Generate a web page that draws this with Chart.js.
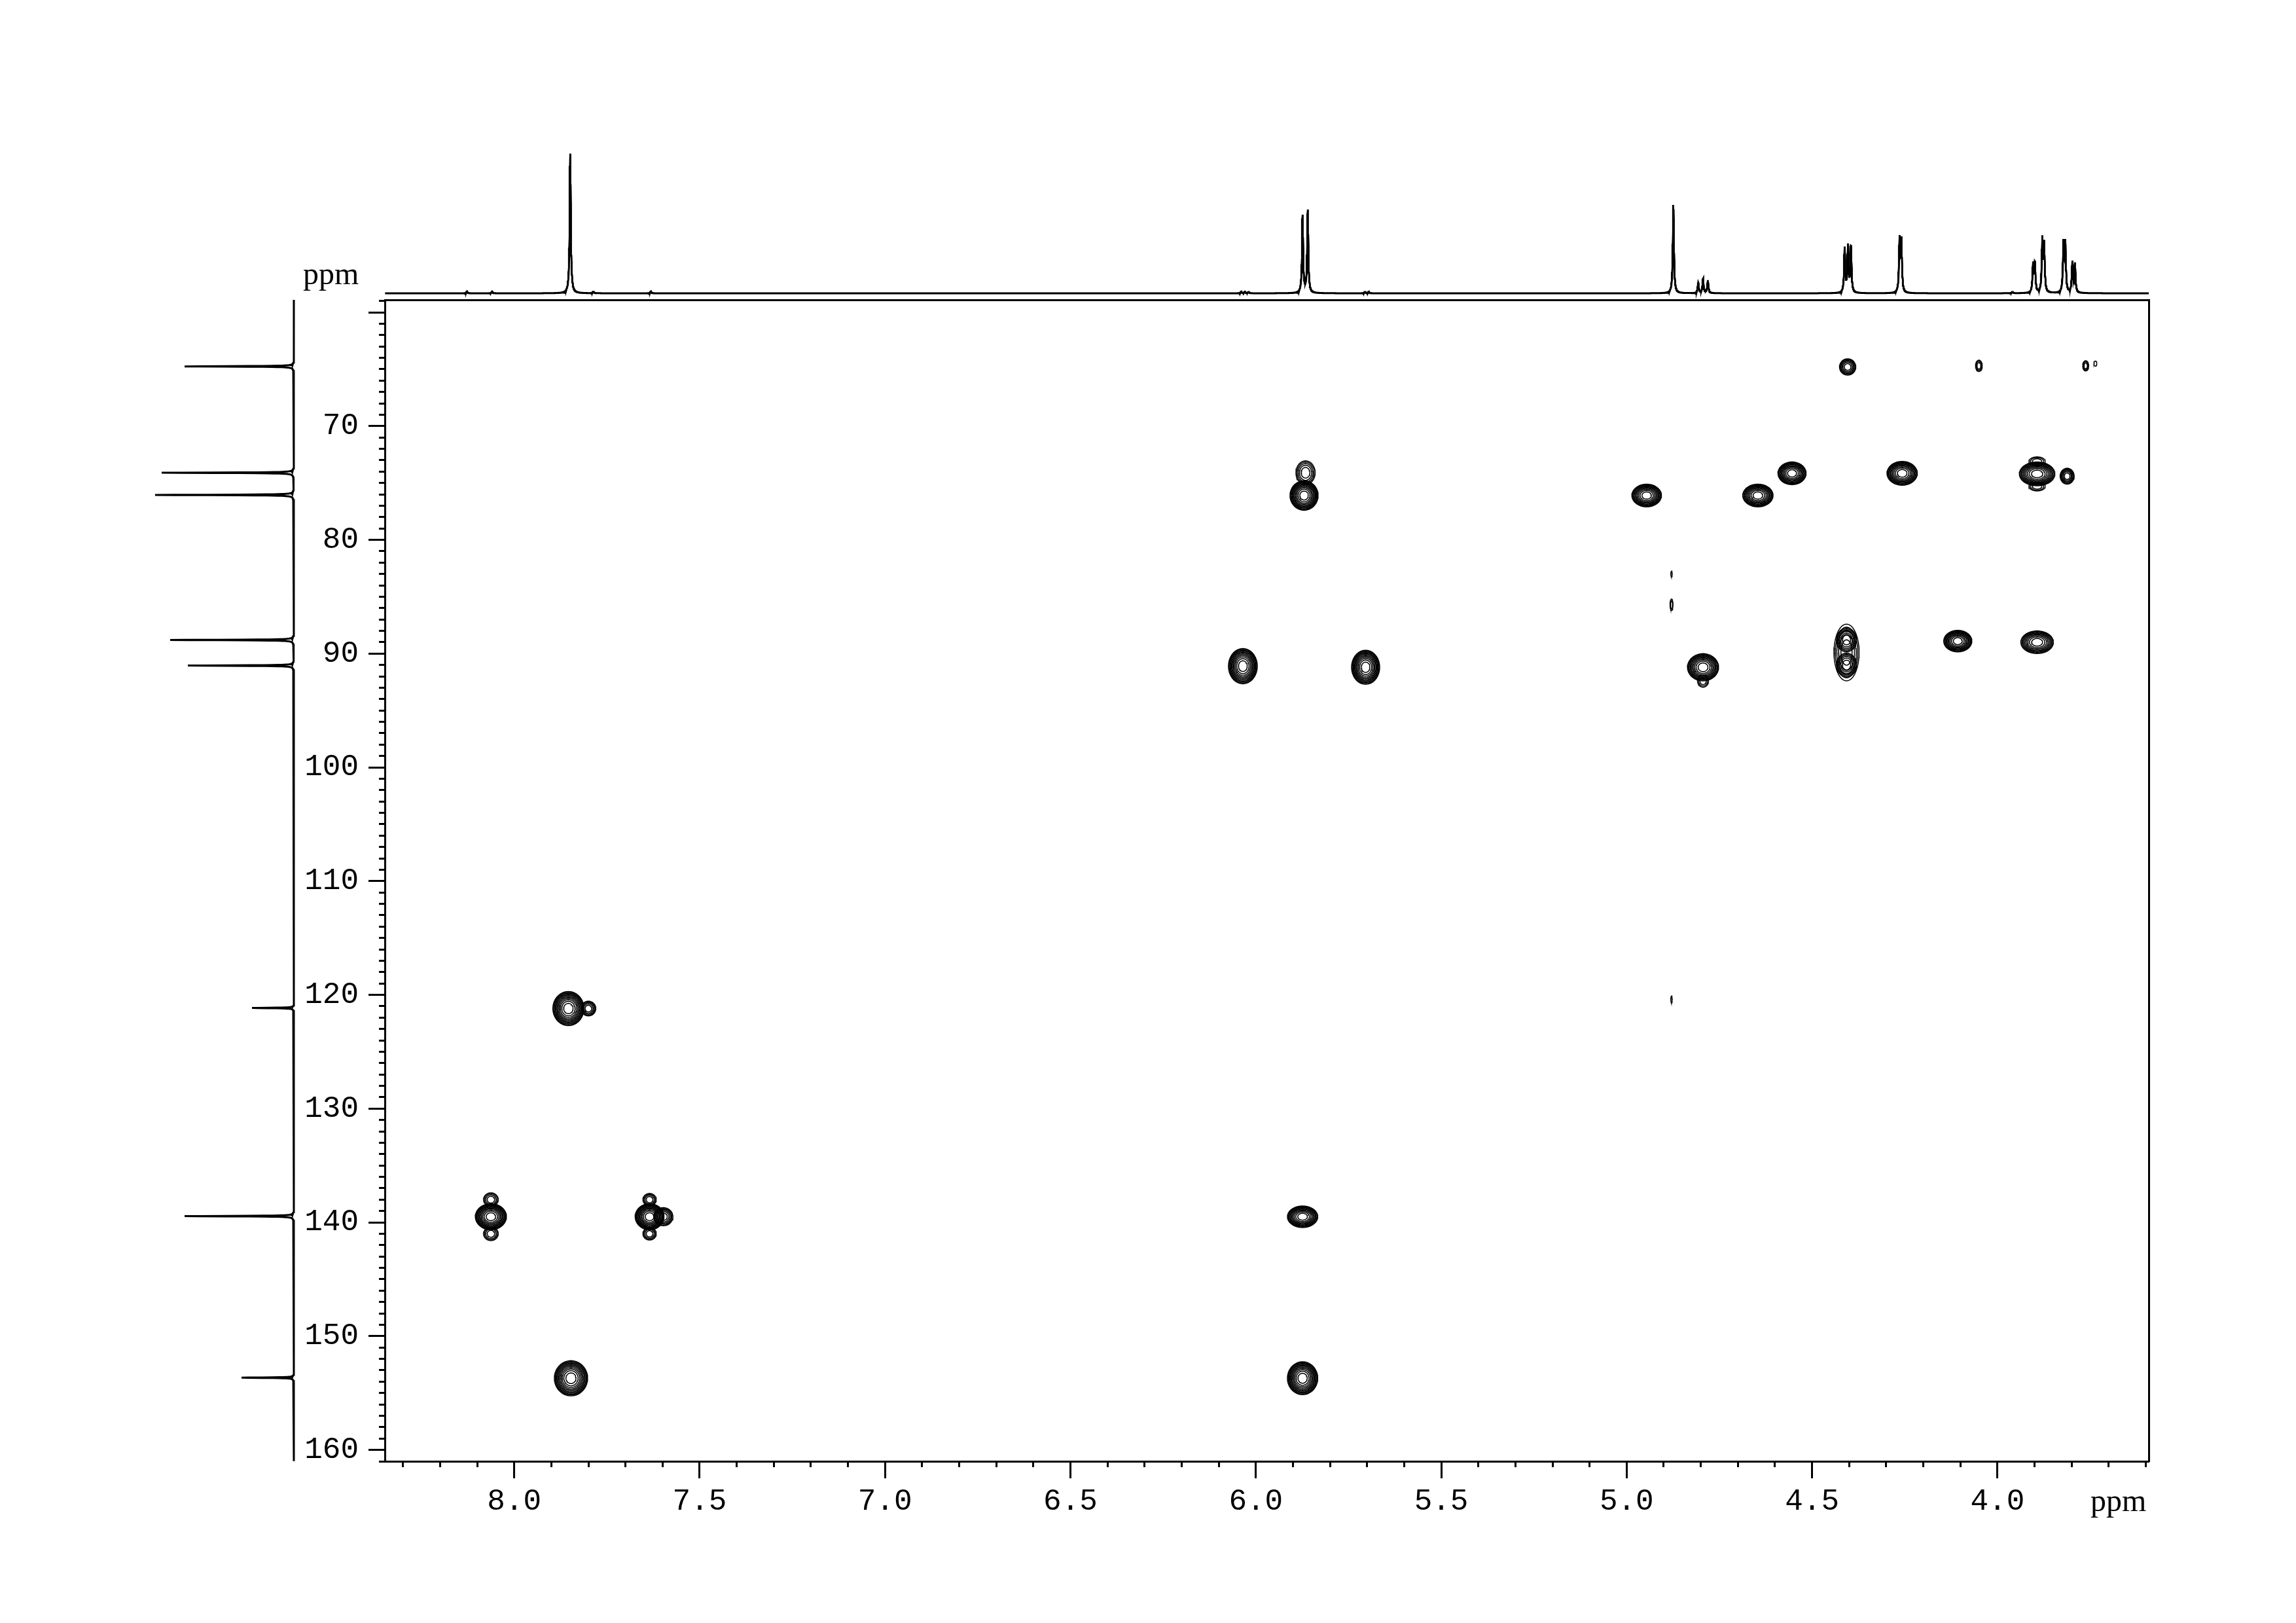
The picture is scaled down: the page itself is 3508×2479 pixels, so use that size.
<!DOCTYPE html>
<html>
<head>
<meta charset="utf-8">
<script src="https://cdn.jsdelivr.net/npm/chart.js@4.4.1/dist/chart.umd.min.js"></script>
<style>
    body { margin: 0; background: #fff; }
    #wrap { position: relative; width: 3508px; height: 2479px; background: #fff; }
    canvas { position: absolute; }
    .unit { position: absolute; font-family: "Liberation Serif", serif; font-size: 48px; line-height: 48px; color: #000; }
</style>
</head>
<body>
<div id="wrap">
    <canvas id="hmbc" width="3508" height="2479" style="left:0px;top:0px"></canvas>
    <canvas id="proton" width="2695" height="238" style="left:588px;top:220px"></canvas>
    <canvas id="carbon" width="240" height="1774" style="left:220px;top:458px"></canvas>
    <div class="unit" style="left:463px;top:394px">ppm</div>
    <div class="unit" style="left:3194px;top:2268px">ppm</div>
</div>
<script>
// Variables
const protonRange = [3.592, 8.349];   // 1H axis, ppm (drawn reversed)
const carbonRange = [58.9, 161.0];    // 13C axis, ppm (drawn reversed)

// 1H projection (top): line positions and heights
const protonShifts  = [8.128, 8.060, 7.849, 7.787, 7.632, 6.040, 6.030, 6.020, 5.874, 5.860, 5.706, 5.696,
                       4.874, 4.807, 4.794, 4.781, 4.412, 4.403, 4.395, 4.264, 4.259, 3.960,
                       3.904, 3.899, 3.879, 3.874, 3.822, 3.817, 3.798, 3.791];
const protonHeights = [3, 3, 216, 3, 3, 2.5, 2.5, 2.5, 118, 126, 2.5, 2.5,
                       135, 16, 22, 20, 68, 71, 69, 80, 78, 2.5,
                       43, 43, 80, 72, 74, 74, 46, 44];

// 13C projection (left): line positions and heights
const carbonShifts  = [64.75, 74.1, 76.05, 88.8, 91.05, 121.15, 139.45, 153.65];
const carbonHeights = [167, 202, 212, 189, 162, 64, 167, 80];

// HMBC cross peaks: centre (1H, 13C), outer half widths, number of contour levels
const crossH = [4.404, 4.050, 3.762, 3.736, 4.946, 4.646, 4.554, 4.257, 3.893, 3.893, 3.893, 3.812,
                4.879, 4.879, 4.794, 4.794, 4.407, 4.407, 4.407, 4.107, 3.893,
                5.870, 5.866, 6.035, 5.704,
                7.854, 7.800, 8.063, 8.063, 8.063, 7.635, 7.598, 7.635, 7.635,
                7.847, 5.874, 5.874, 4.879];
const crossC = [64.8, 64.7, 64.7, 64.5, 76.1, 76.1, 74.15, 74.15, 74.2, 73.1, 75.3, 74.4,
                83.0, 85.7, 91.2, 92.4, 89.9, 88.8, 91.0, 88.9, 89.0,
                76.1, 74.1, 91.1, 91.2,
                121.2, 121.2, 139.5, 138.0, 141.0, 139.5, 139.5, 138.0, 141.0,
                153.7, 139.5, 153.7, 120.4];
const crossWidthH = [0.022, 0.009, 0.008, 0.004, 0.040, 0.041, 0.038, 0.041, 0.048, 0.022, 0.022, 0.019,
                     0.002, 0.004, 0.042, 0.015, 0.034, 0.027, 0.027, 0.038, 0.044,
                     0.038, 0.026, 0.039, 0.038,
                     0.042, 0.020, 0.042, 0.020, 0.020, 0.039, 0.026, 0.018, 0.018,
                     0.045, 0.041, 0.041, 0.002];
const crossWidthC = [0.72, 0.5, 0.45, 0.22, 1.0, 1.0, 1.0, 1.05, 1.05, 0.4, 0.4, 0.7,
                     0.25, 0.5, 1.2, 0.55, 2.5, 1.05, 1.05, 0.95, 1.0,
                     1.3, 1.05, 1.55, 1.5,
                     1.5, 0.65, 1.15, 0.6, 0.6, 1.15, 0.8, 0.55, 0.55,
                     1.55, 0.95, 1.45, 0.3];
const crossLevels = [6, 3, 3, 1, 10, 10, 10, 10, 10, 3, 3, 6,
                     1, 2, 10, 3, 5, 6, 6, 10, 9,
                     11, 5, 11, 11,
                     11, 5, 11, 4, 4, 11, 6, 4, 4,
                     11, 10, 11, 1];

const ink = "#000";
const tickFont = { family: "Liberation Mono", size: 46 };

// Functions
function lorentz(x, x0, w) {
    return w * w / ((x - x0) * (x - x0) + w * w);
}

function projection(shifts, heights, lo, hi, step, w, horizontal) {
    const pts = [];
    for (let v = lo; v <= hi; v += step) {
        let s = 0;
        for (let i = 0; i < shifts.length; i++) {
            s += heights[i] * lorentz(v, shifts[i], w);
        }
        pts.push(horizontal ? {x: v, y: s} : {x: s, y: v});
    }
    return pts;
}

function contourRing(h, c, wh, wc) {
    const pts = [];
    const n = 36;
    for (let j = 0; j <= n; j++) {
        const t = 2 * Math.PI * j / n;
        pts.push({x: h + wh * Math.cos(t), y: c + wc * Math.sin(t)});
    }
    return pts;
}

function fixSize(prop, size) {
    return function(scale) { scale[prop] = size; };
}

// HMBC contour datasets
const contourSets = [];
for (let i = 0; i < crossH.length; i++) {
    for (let k = 0; k < crossLevels[i]; k++) {
        const s = Math.sqrt(1 - k / crossLevels[i]);
        contourSets.push({
            data: contourRing(crossH[i], crossC[i], crossWidthH[i] * s, crossWidthC[i] * s),
            showLine: true,
            borderColor: ink,
            borderWidth: 1.5,
            pointRadius: 0,
            fill: false,
            xAxisID: "x",
            yAxisID: "y"
        });
    }
}

Chart.defaults.animation = false;
Chart.defaults.color = ink;

var hmbc = new Chart(document.getElementById("hmbc"), {
    type: "scatter",
    data: { datasets: contourSets },
    options: {
        responsive: false,
        layout: { padding: { left: 448, right: 225, top: 458, bottom: 147 } },
        plugins: { legend: { display: false }, tooltip: { enabled: false } },
        scales: {
            x: {
                axis: "x", position: "bottom", weight: 1, reverse: true,
                min: protonRange[0], max: protonRange[1],
                ticks: { stepSize: 0.5, includeBounds: false, autoSkip: false, maxRotation: 0, padding: 8,
                         font: tickFont, color: ink, callback: v => v.toFixed(1) },
                grid: { drawOnChartArea: false, tickLength: 26, tickWidth: 3, tickColor: ink },
                border: { display: true, width: 3, color: ink },
                afterFit: fixSize("height", 100)
            },
            xm: {
                axis: "x", position: "bottom", weight: 0, reverse: true,
                min: protonRange[0], max: protonRange[1],
                ticks: { display: false, stepSize: 0.1, includeBounds: false, autoSkip: false, maxTicksLimit: 1000 },
                grid: { drawOnChartArea: false, tickLength: 9, tickWidth: 3, tickColor: ink },
                border: { display: false },
                afterFit: fixSize("height", 0)
            },
            xt: {
                axis: "x", position: "top", min: protonRange[0], max: protonRange[1],
                ticks: { display: false },
                grid: { display: false, drawTicks: false },
                border: { display: true, width: 3, color: ink },
                afterFit: fixSize("height", 0)
            },
            y: {
                axis: "y", position: "left", weight: 1, reverse: true,
                min: carbonRange[0], max: carbonRange[1],
                ticks: { stepSize: 10, includeBounds: false, autoSkip: false, padding: 15,
                         font: tickFont, color: ink, callback: v => (v === 60 ? "" : String(v)) },
                grid: { drawOnChartArea: false, tickLength: 25, tickWidth: 3, tickColor: ink },
                border: { display: true, width: 3, color: ink },
                afterFit: fixSize("width", 140)
            },
            ym: {
                axis: "y", position: "left", weight: 0, reverse: true,
                min: carbonRange[0], max: carbonRange[1],
                ticks: { display: false, stepSize: 1, includeBounds: false, autoSkip: false, maxTicksLimit: 1000 },
                grid: { drawOnChartArea: false, tickLength: 9, tickWidth: 3, tickColor: ink },
                border: { display: false },
                afterFit: fixSize("width", 0)
            },
            yr: {
                axis: "y", position: "right", min: carbonRange[0], max: carbonRange[1],
                ticks: { display: false },
                grid: { display: false, drawTicks: false },
                border: { display: true, width: 3, color: ink },
                afterFit: fixSize("width", 0)
            }
        }
    }
});

// 1H projection on top
var proton = new Chart(document.getElementById("proton"), {
    type: "scatter",
    data: { datasets: [{
        data: projection(protonShifts, protonHeights, protonRange[0], protonRange[1], 0.0004, 0.0018, true),
        showLine: true, borderColor: ink, borderWidth: 3, pointRadius: 0, fill: false
    }] },
    options: {
        responsive: false,
        layout: { padding: 0 },
        plugins: { legend: { display: false }, tooltip: { enabled: false } },
        scales: {
            x: { display: false, reverse: true, min: protonRange[0], max: protonRange[1] },
            y: { display: false, min: -10, max: 228 }
        }
    }
});

// 13C projection on the left
var carbon = new Chart(document.getElementById("carbon"), {
    type: "scatter",
    data: { datasets: [{
        data: projection(carbonShifts, carbonHeights, carbonRange[0], carbonRange[1], 0.01, 0.025, false),
        showLine: true, borderColor: ink, borderWidth: 3, pointRadius: 0, fill: false
    }] },
    options: {
        responsive: false,
        layout: { padding: 0 },
        plugins: { legend: { display: false }, tooltip: { enabled: false } },
        scales: {
            x: { display: false, reverse: true, min: -11, max: 229 },
            y: { display: false, reverse: true, min: carbonRange[0], max: carbonRange[1] }
        }
    }
});
</script>
</body>
</html>
